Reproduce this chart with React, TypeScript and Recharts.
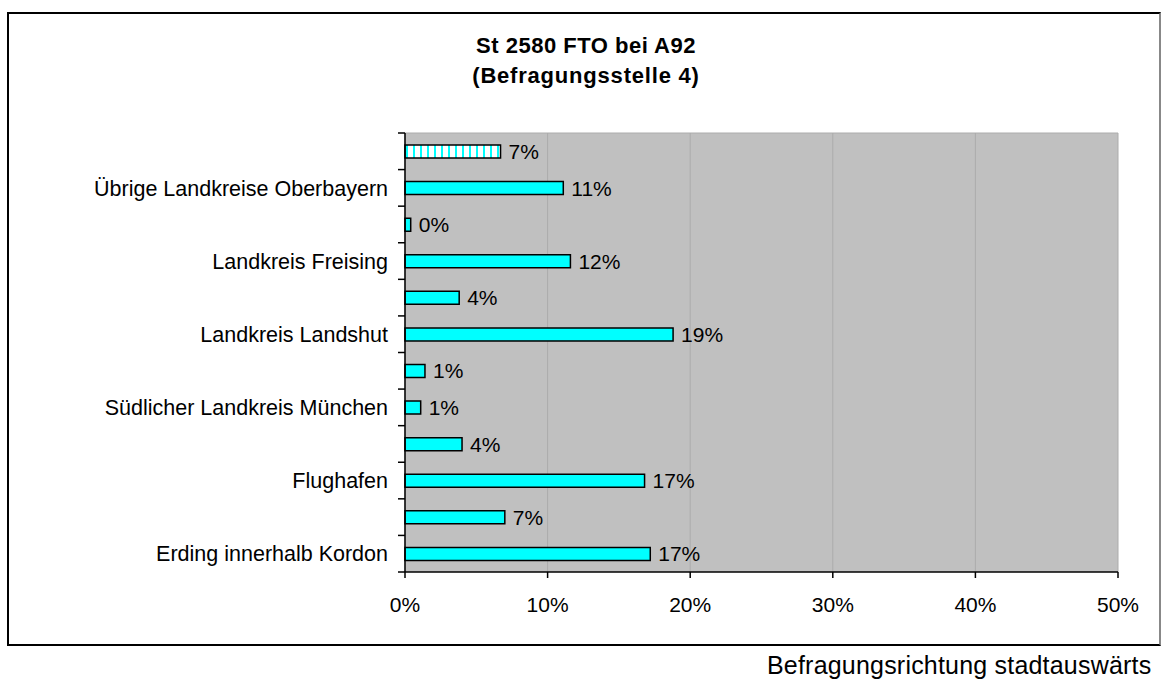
import { BarChart, Bar, XAxis, YAxis, CartesianGrid, Cell, LabelList } from 'recharts'

// categories top to bottom; empty ones are unlabeled in the source
const categories = [
  '',
  'Übrige Landkreise Oberbayern',
  '',
  'Landkreis Freising',
  '',
  'Landkreis Landshut',
  '',
  'Südlicher Landkreis München',
  '',
  'Flughafen',
  '',
  'Erding innerhalb Kordon',
]
const shares = [0.067, 0.111, 0.004, 0.116, 0.038, 0.188, 0.014, 0.011, 0.04, 0.168, 0.07, 0.172]
const xTicks = [0, 0.1, 0.2, 0.3, 0.4, 0.5]

const FONT = '"Liberation Sans", Arial, Helvetica, sans-serif'
const pct = (v: number) => `${Math.round(v * 100)}%`

const chartData = categories.map((label, i) => ({ id: i, label, share: shares[i] }))

function CategoryTick(props: any) {
  const { x, y, payload, index, visibleTicksCount } = props
  const half = payload?.offset ? payload.offset : 18.3
  const axisX = x + 17
  const last = index === (visibleTicksCount ?? categories.length) - 1
  return (
    <g>
      <line x1={axisX - 7} x2={axisX} y1={y - half} y2={y - half} stroke="#000" strokeWidth={1.5} />
      {last && <line x1={axisX - 7} x2={axisX} y1={y + half} y2={y + half} stroke="#000" strokeWidth={1.5} />}
      <text x={x} y={y} dy="0.355em" textAnchor="end" fontSize={21.5} fill="#000" fontFamily={FONT}>
        {categories[payload.value]}
      </text>
    </g>
  )
}

export default function App() {
  return (
    <div style={{ position: 'fixed', left: 0, top: 0, width: 1161, height: 686, overflow: 'hidden', background: '#fff', fontFamily: FONT }}>
      <div
        style={{
          position: 'absolute',
          left: 7,
          top: 12,
          width: 1150,
          height: 630,
          borderLeft: '2px solid #000',
          borderTop: '2px solid #000',
          borderBottom: '2px solid #000',
          borderRight: '2px solid #888',
        }}
      />
      <div style={{ position: 'absolute', left: 0, top: 0 }}>
        <BarChart
          width={1161}
          height={686}
          data={chartData}
          layout="vertical"
          barSize={13}
          margin={{ top: 133, right: 43, bottom: 84, left: 0 }}
        >
          <defs>
            <pattern id="stripes" width={7} height={10} patternUnits="userSpaceOnUse">
              <rect width={7} height={10} fill="#fff" />
              <rect x={0} width={2} height={10} fill="#00FFFF" />
            </pattern>
          </defs>
          <CartesianGrid
            fill="#C0C0C0"
            stroke="#acacac"
            horizontalCoordinatesGenerator={({ offset }: any) => [offset.top]}
          />
          <XAxis
            type="number"
            domain={[0, 0.5]}
            ticks={xTicks}
            tickFormatter={pct}
            axisLine={{ stroke: '#000', strokeWidth: 1.5 }}
            tickLine={{ stroke: '#000', strokeWidth: 1.5 }}
            tickSize={6}
            tickMargin={19}
            tick={{ fill: '#000', fontSize: 21, fontFamily: FONT }}
            height={30}
          />
          <YAxis
            type="category"
            dataKey="id"
            width={405}
            axisLine={{ stroke: '#000', strokeWidth: 1.5 }}
            tickLine={false}
            tickSize={7}
            tickMargin={10}
            interval={0}
            tick={<CategoryTick />}
          />
          <Bar dataKey="share" stroke="#000" strokeWidth={1.5} isAnimationActive={false}>
            {chartData.map((entry, index) => (
              <Cell key={`cell-${entry.id}`} fill={index === 0 ? 'url(#stripes)' : '#00FFFF'} />
            ))}
            <LabelList
              dataKey="share"
              position="right"
              offset={8}
              formatter={(v: any) => pct(Number(v))}
              fill="#000"
              fontSize={21}
              fontFamily={FONT}
            />
          </Bar>
        </BarChart>
      </div>
      <div style={{ position: 'absolute', left: 386, top: 35, width: 400, textAlign: 'center', fontSize: 22, fontWeight: 'bold', lineHeight: '22px', letterSpacing: 0.5 }}>
        St 2580 FTO bei A92
      </div>
      <div style={{ position: 'absolute', left: 386, top: 65, width: 400, textAlign: 'center', fontSize: 22, fontWeight: 'bold', lineHeight: '22px', letterSpacing: 0.8 }}>
        (Befragungsstelle 4)
      </div>
      <div style={{ position: 'absolute', left: 767, top: 653, fontSize: 25, lineHeight: '25px', letterSpacing: 0.2, whiteSpace: 'nowrap' }}>
        Befragungsrichtung stadtauswärts
      </div>
    </div>
  )
}
